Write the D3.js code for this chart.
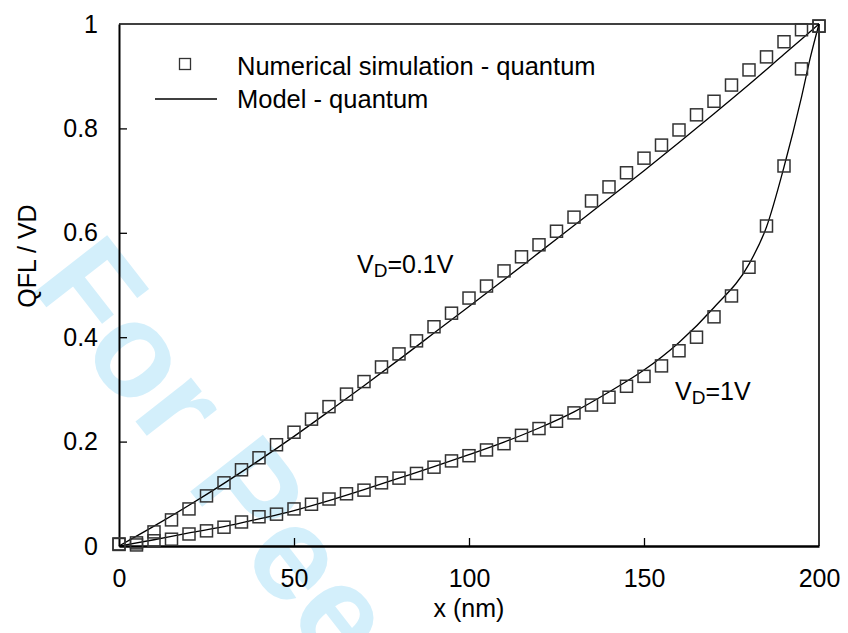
<!DOCTYPE html>
<html>
<head>
<meta charset="utf-8">
<script src="https://cdn.jsdelivr.net/npm/d3@7"></script>
<style>
  body { margin: 0; background: #fff; }
  text { font-family: Arial, "Liberation Sans", sans-serif; }
</style>
</head>
<body>
<div id="chart"></div>
<script>
// x positions of the simulated points (nm)
var simX = [0,5,10,15,20,25,30,35,40,45,50,55,60,65,70,75,80,85,90,95,100,
            105,110,115,120,125,130,135,140,145,150,155,160,165,170,175,180,185,190,195,200];
// numerical simulation, VD = 0.1V
var sim01 = [0.003,0.006,0.027,0.05,0.071,0.096,0.121,0.146,0.169,0.194,0.218,
             0.243,0.267,0.291,0.315,0.343,0.368,0.393,0.42,0.446,0.475,
             0.498,0.527,0.554,0.577,0.603,0.63,0.661,0.688,0.715,0.743,
             0.768,0.797,0.826,0.852,0.883,0.912,0.937,0.966,0.989,0.996];
// numerical simulation, VD = 1V
var sim1 = [0.004,0.002,0.01,0.013,0.023,0.029,0.036,0.046,0.056,0.061,0.071,
            0.08,0.09,0.1,0.107,0.121,0.13,0.139,0.151,0.163,0.173,
            0.184,0.196,0.212,0.225,0.239,0.255,0.27,0.285,0.306,0.325,
            0.345,0.374,0.4,0.439,0.479,0.534,0.613,0.728,0.914,0.996];
// model curves
var model01X = [0,10,20,30,40,50,60,70,80,90,100,110,120,130,140,150,160,170,180,190,200];
var model01Y = [0,0.038,0.078,0.12,0.164,0.21,0.258,0.307,0.357,0.408,0.459,
                0.51,0.562,0.614,0.666,0.719,0.773,0.828,0.884,0.942,1.0];
var model1X = [0,10,20,30,40,50,60,70,80,90,100,110,120,130,140,150,160,170,180,185,190,195,197.5,200];
var model1Y = [0,0.012,0.025,0.037,0.052,0.068,0.087,0.108,0.13,0.152,0.175,
               0.199,0.226,0.257,0.295,0.337,0.39,0.457,0.54,0.611,0.726,0.86,0.935,1.0];

var xTicks = [0,50,100,150,200];
var yTicks = [0,0.2,0.4,0.6,0.8,1];

var W = 848, H = 633;
var margin = {top: 24, right: 29, bottom: 87, left: 119},
    width = W - margin.left - margin.right,
    height = H - margin.top - margin.bottom;

var svg = d3.select("#chart").append("svg")
    .attr("width", W)
    .attr("height", H);

// watermark
svg.append("text")
    .attr("transform", "translate(29,285) rotate(52)")
    .style("font-size", "134px")
    .style("font-weight", "bold")
    .style("fill", "#d3effb")
    .text("For Peer Review");

var g = svg.append("g")
    .attr("transform", "translate(" + margin.left + "," + margin.top + ")");

var x = d3.scaleLinear().domain([0, 200]).range([0, width]);
var y = d3.scaleLinear().domain([0, 1]).range([height, 0]);

// frame (top and right)
g.append("line").attr("x1", 0).attr("x2", width).attr("y1", 0).attr("y2", 0)
    .attr("stroke", "#000").attr("stroke-width", 1.3);
g.append("line").attr("x1", width).attr("x2", width).attr("y1", 0).attr("y2", height)
    .attr("stroke", "#000").attr("stroke-width", 1.6);

var xAxis = g.append("g")
    .attr("transform", "translate(0," + height + ")")
    .call(d3.axisBottom(x).tickValues(xTicks).tickSize(-8).tickSizeOuter(0).tickPadding(23)
      .tickFormat(d3.format("d")));
var yAxis = g.append("g")
    .call(d3.axisLeft(y).tickValues(yTicks).tickSize(-8).tickSizeOuter(0).tickPadding(21)
      .tickFormat(function(d) { return d3.format("")(+d.toFixed(1)); }));

xAxis.select(".domain").attr("stroke-width", 2.5);
yAxis.select(".domain").attr("stroke-width", 2);
g.selectAll(".tick line").attr("stroke-width", 1.3);
g.selectAll(".tick text").style("font-size", "25px").style("font-family", "Arial, 'Liberation Sans', sans-serif").attr("fill", "#000");
// no tick marks at the frame corners
xAxis.selectAll(".tick").filter(function(d) { return d == 0 || d == 200; }).select("line").remove();
yAxis.selectAll(".tick").filter(function(d) { return d == 0 || d == 1; }).select("line").remove();

// axis titles
svg.append("text")
    .attr("x", 469).attr("y", 617)
    .attr("text-anchor", "middle")
    .style("font-size", "25px")
    .text("x (nm)");
svg.append("text")
    .attr("transform", "translate(36,256) rotate(-90)")
    .attr("text-anchor", "middle")
    .style("font-size", "25px")
    .text("QFL / VD");

// model lines
var line = d3.line()
    .x(function(d) { return x(d[0]); })
    .y(function(d) { return y(d[1]); })
    .curve(d3.curveMonotoneX);

g.append("path")
    .datum(model01X.map(function(d, i) { return [d, model01Y[i]]; }))
    .attr("d", line)
    .attr("fill", "none").attr("stroke", "#000").attr("stroke-width", 1.3);
g.append("path")
    .datum(model1X.map(function(d, i) { return [d, model1Y[i]]; }))
    .attr("d", line)
    .attr("fill", "none").attr("stroke", "#000").attr("stroke-width", 1.3);

// simulation markers
var sq = 12;
function markers(vals) {
  g.append("g").selectAll("rect")
    .data(simX.map(function(d, i) { return [d, vals[i]]; }))
    .enter().append("rect")
      .attr("x", function(d) { return x(d[0]) - sq / 2; })
      .attr("y", function(d) { return y(d[1]) - sq / 2; })
      .attr("width", sq).attr("height", sq)
      .attr("fill", "none")
      .attr("stroke", "#333")
      .attr("stroke-width", 1.5);
}
markers(sim01);
markers(sim1);

// legend
svg.append("rect")
    .attr("x", 185 - 5.5).attr("y", 64 - 5.5).attr("width", 11).attr("height", 11)
    .attr("fill", "none").attr("stroke", "#333").attr("stroke-width", 1.3);
svg.append("line")
    .attr("x1", 155).attr("x2", 217).attr("y1", 99).attr("y2", 99)
    .attr("stroke", "#000").attr("stroke-width", 1.3);
svg.append("text").attr("x", 237).attr("y", 75).style("font-size", "25.5px")
    .text("Numerical simulation - quantum");
svg.append("text").attr("x", 237).attr("y", 108).style("font-size", "25.5px")
    .text("Model - quantum");

// annotations
function vdLabel(px, py, val) {
  var t = svg.append("text").attr("x", px).attr("y", py).style("font-size", "25px");
  t.append("tspan").text("V");
  t.append("tspan").attr("dy", 4).style("font-size", "19px").text("D");
  t.append("tspan").attr("dy", -4).text("=" + val);
}
vdLabel(357, 273, "0.1V");
vdLabel(675, 400, "1V");
</script>
</body>
</html>
